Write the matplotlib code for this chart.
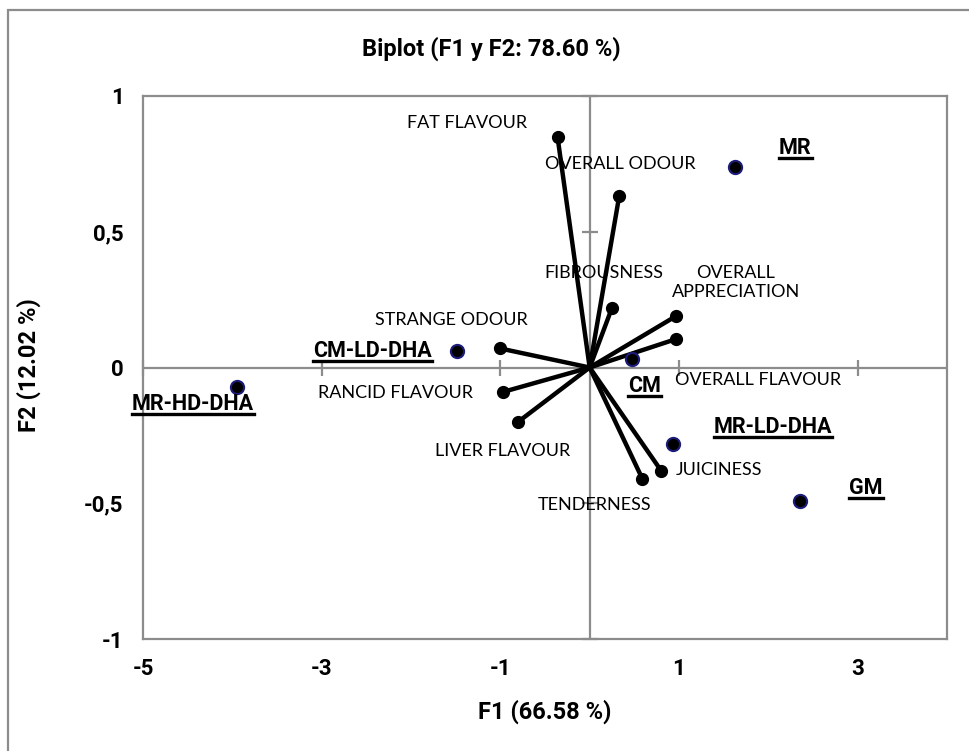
import matplotlib
matplotlib.use("Agg")
import matplotlib.pyplot as plt
from matplotlib.patches import Rectangle
from matplotlib.lines import Line2D

plt.rcParams['font.family'] = ['Lato', 'DejaVu Sans']
plt.rcParams['axes.unicode_minus'] = False
BOLD = ['Roboto', 'DejaVu Sans']

# ---- data ----
var_names = ["FAT FLAVOUR", "OVERALL ODOUR", "FIBROUSNESS", "OVERALL\nAPPRECIATION",
             "OVERALL FLAVOUR", "STRANGE ODOUR", "RANCID FLAVOUR", "LIVER FLAVOUR",
             "JUICINESS", "TENDERNESS"]
var_f1 = [-0.36, 0.33, 0.25, 0.97, 0.97, -1.00, -0.97, -0.80, 0.80, 0.59]
var_f2 = [0.85, 0.63, 0.22, 0.19, 0.105, 0.07, -0.09, -0.20, -0.38, -0.41]

obs_names = ["MR", "CM-LD-DHA", "MR-HD-DHA", "CM", "MR-LD-DHA", "GM"]
obs_f1 = [1.63, -1.49, -3.95, 0.47, 0.93, 2.36]
obs_f2 = [0.74, 0.06, -0.07, 0.03, -0.28, -0.49]

xticks = [-5, -3, -1, 1, 3]
yticks = [-1, -0.5, 0, 0.5, 1]
ytick_labels = ["-1", "-0,5", "0", "0,5", "1"]

title = "Biplot (F1 y F2: 78.60 %)"
xlabel = "F1 (66.58 %)"
ylabel = "F2 (12.02 %)"

# ---- layout (label anchors) ----
var_label_pos = [(-0.705, 0.899, 'right'), (-0.50, 0.748, 'left'), (-0.508, 0.349, 'left'),
                 (1.636, 0.313, 'center'), (0.955, -0.046, 'left'), (-0.694, 0.175, 'right'),
                 (-1.303, -0.095, 'right'), (-0.213, -0.308, 'right'), (0.963, -0.377, 'left'),
                 (0.694, -0.506, 'right')]
obs_label_pos = [(2.119, 0.807, 'left'), (-1.769, 0.062, 'right'), (-5.127, -0.136, 'left'),
                 (0.432, -0.068, 'left'), (1.391, -0.220, 'left'), (2.906, -0.445, 'left')]

GRAY = "#8c8c8c"
W, H = 970, 751
fig = plt.figure(figsize=(W / 100, H / 100), dpi=100)
ax = fig.add_axes([143 / W, 1 - 639 / H, 804 / W, 543 / H])
ax.set_xlim(-5, 4)
ax.set_ylim(-1, 1)

for s in ax.spines.values():
    s.set_color(GRAY)
    s.set_linewidth(1.6)

ax.axhline(0, color=GRAY, lw=1.6, zorder=1)
ax.axvline(0, color=GRAY, lw=1.6, zorder=1)
ax.plot(xticks, [0] * len(xticks), ls='none', marker='|', ms=11, mew=1.6, color=GRAY, zorder=1, clip_on=False)
ax.plot([0] * len(yticks), yticks, ls='none', marker='_', ms=11, mew=1.6, color=GRAY, zorder=1, clip_on=False)

ax.set_xticks(xticks)
ax.set_yticks(yticks)
ax.set_yticklabels(ytick_labels)
ax.tick_params(length=0, labelsize=16, pad=14)
for lab in ax.get_xticklabels() + ax.get_yticklabels():
    lab.set_fontweight('bold')
    lab.set_family(BOLD)

# vectors
for x, y in zip(var_f1, var_f2):
    ax.plot([0, x], [0, y], color='black', lw=3.2, zorder=3, solid_capstyle='round')
ax.plot(var_f1, var_f2, ls='none', marker='o', ms=8.5, color='black', zorder=4)
for name, (lx, ly, ha) in zip(var_names, var_label_pos):
    ax.text(lx, ly, name, ha=ha, va='center', fontsize=13, multialignment='center',
            linespacing=1.2, zorder=5)

# observations
ax.plot(obs_f1, obs_f2, ls='none', marker='o', ms=9.5, mfc='black', mec='#1c1c7a', mew=1.5, zorder=4)
obs_texts = []
for name, (lx, ly, ha) in zip(obs_names, obs_label_pos):
    t = ax.text(lx, ly, name, ha=ha, va='center', fontsize=15.5, fontweight='bold', family=BOLD,
                zorder=5, clip_on=False)
    obs_texts.append(t)

ax.set_xlabel(xlabel, fontsize=17, fontweight='bold', family=BOLD)
ax.set_ylabel(ylabel, fontsize=17, fontweight='bold', family=BOLD)
ax.xaxis.set_label_coords(0.499, -0.111)
ax.yaxis.set_label_coords(-0.127, 0.505)
fig.text(491 / W, 1 - 49 / H, title, ha='center', va='center', fontsize=17, fontweight='bold',
         family=BOLD)

# outer chart border
fig.patches.append(Rectangle((8 / W, -0.05), 1.1, (1 - 10 / H) + 0.05, transform=fig.transFigure,
                             fill=False, ec=GRAY, lw=1.6))

# underline observation labels
fig.canvas.draw()
r = fig.canvas.get_renderer()
for t in obs_texts:
    bb = t.get_window_extent(r)
    yline = bb.y0 + 1
    fig.add_artist(Line2D([bb.x0 / W, bb.x1 / W], [yline / H, yline / H], transform=fig.transFigure,
                          color='black', lw=2.4))

fig.savefig("out.png", dpi=100)
